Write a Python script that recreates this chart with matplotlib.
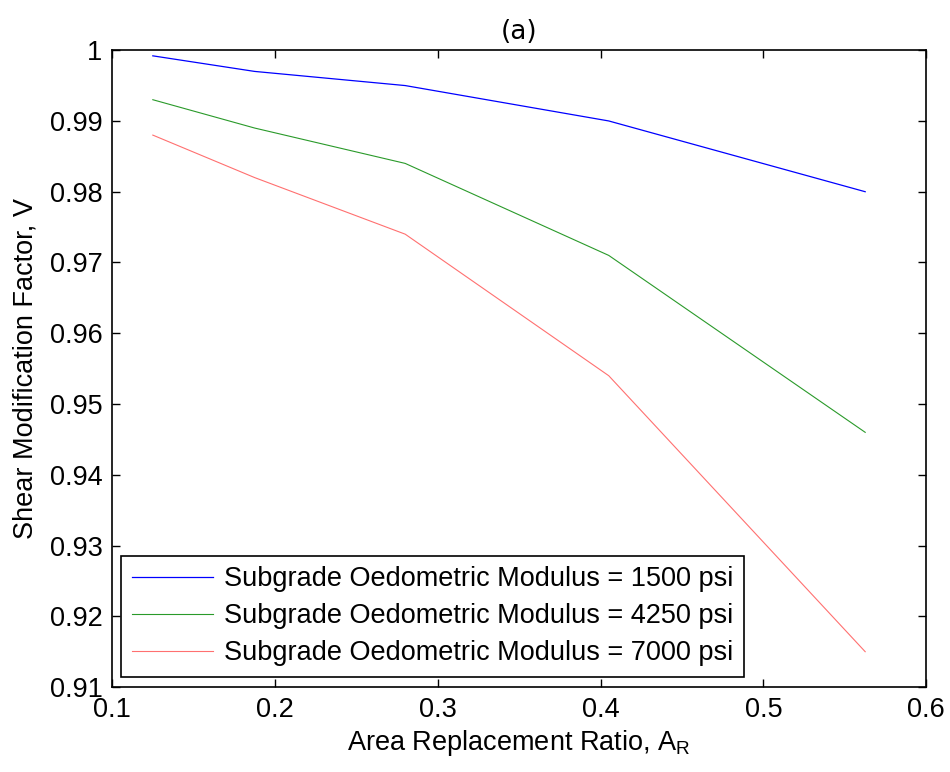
import matplotlib
matplotlib.use('Agg')
import matplotlib.pyplot as plt

plt.rcParams['font.family'] = ['Liberation Sans', 'DejaVu Sans']

# data
area_ratio = [0.125, 0.1875, 0.28, 0.405, 0.5625]
v_1500 = [0.9992, 0.997, 0.995, 0.990, 0.980]
v_4250 = [0.993, 0.989, 0.984, 0.971, 0.946]
v_7000 = [0.988, 0.982, 0.974, 0.954, 0.915]
labels = ['Subgrade Oedometric Modulus = 1500 psi',
          'Subgrade Oedometric Modulus = 4250 psi',
          'Subgrade Oedometric Modulus = 7000 psi']
xticks = [0.1, 0.2, 0.3, 0.4, 0.5, 0.6]
yticks = [0.91, 0.92, 0.93, 0.94, 0.95, 0.96, 0.97, 0.98, 0.99, 1.0]
ytick_labels = ['0.91', '0.92', '0.93', '0.94', '0.95', '0.96', '0.97', '0.98', '0.99', '1']

fig = plt.figure(figsize=(9.5, 7.72), dpi=100)
ax = fig.add_axes([0.118, 0.110, 0.857, 0.825])

ax.plot(area_ratio, v_1500, color='#0000ff', lw=0.9, label=labels[0])
ax.plot(area_ratio, v_4250, color='#2a9a2a', lw=0.8, label=labels[1])
ax.plot(area_ratio, v_7000, color='#ff7070', lw=0.8, label=labels[2])

ax.set_xlim(0.1, 0.6)
ax.set_ylim(0.91, 1.0)
ax.set_xticks(xticks)
ax.set_xticklabels([str(t) for t in xticks])
ax.set_yticks(yticks)
ax.set_yticklabels(ytick_labels)
ax.tick_params(direction='in', length=6, width=1, top=True, right=True,
               labelsize=19.5, pad=7)
for s in ax.spines.values():
    s.set_linewidth(1.2)

ax.set_xlabel(r'Area Replacement Ratio, A$_\mathregular{R}$', fontsize=19.5, labelpad=4)
ax.set_ylabel('Shear Modification Factor, V', fontsize=19.5, labelpad=8)
ax.set_title('(a)', fontsize=19, family='DejaVu Sans', pad=8)

leg = ax.legend(loc='lower left', bbox_to_anchor=(0.011, 0.016), fontsize=19.5,
                fancybox=False, framealpha=1, edgecolor='black',
                handlelength=3.0, handletextpad=0.4, borderpad=0.4,
                labelspacing=0.4, borderaxespad=0)
leg.get_frame().set_linewidth(1.2)

fig.savefig('out.png', dpi=100)
